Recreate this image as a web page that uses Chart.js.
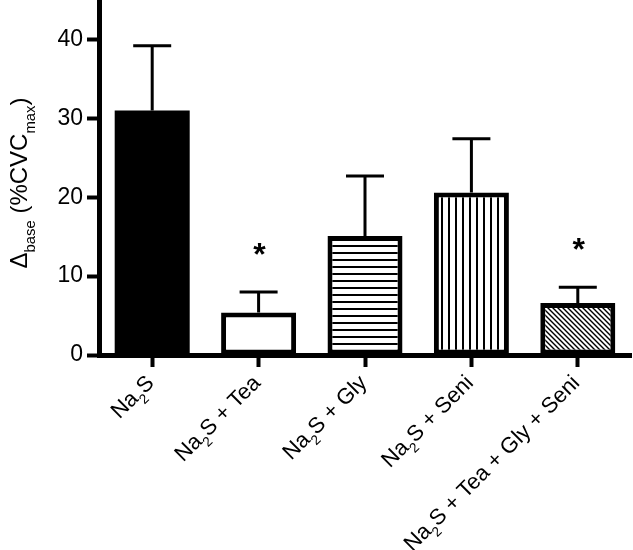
<!DOCTYPE html>
<html><head><meta charset="utf-8">
<script src="https://cdn.jsdelivr.net/npm/chart.js@4"></script>
<style>html,body{margin:0;padding:0;background:#fff}#wrap{width:633px;height:550px}</style>
</head><body><div id="wrap"><canvas id="c" width="633" height="550"></canvas></div>
<script>
const categories = ['Na_2S', 'Na_2S + Tea', 'Na_2S + Gly', 'Na_2S + Seni', 'Na_2S + Tea + Gly + Seni'];
const means = [31.0, 5.4, 15.1, 20.6, 6.6];
const sems = [8.2, 2.6, 7.6, 6.8, 2.0];
const significant = [false, true, false, false, true];
const fillKinds = ['solid', 'white', 'horizontal', 'vertical', 'diagonal'];
const yTicks = [0, 10, 20, 30, 40];
const yTitle = 'Δ_{base} (%CVC_{max})';

const FONT = 'Arial, "Liberation Sans", sans-serif';

function makeFill(kind) {
  if (kind === 'solid') return '#000';
  if (kind === 'white') return '#fff';
  const c = document.createElement('canvas');
  const g = c.getContext('2d');
  if (kind === 'horizontal') {
    c.width = 8; c.height = 7;
    g.fillStyle = '#fff'; g.fillRect(0, 0, 8, 7);
    g.fillStyle = '#000'; g.fillRect(0, 0, 8, 2);
  } else if (kind === 'vertical') {
    c.width = 7; c.height = 8;
    g.fillStyle = '#fff'; g.fillRect(0, 0, 7, 8);
    g.fillStyle = '#000'; g.fillRect(0, 0, 2, 8);
  } else {
    c.width = 5; c.height = 5;
    g.fillStyle = '#fff'; g.fillRect(0, 0, 5, 5);
    g.strokeStyle = '#000'; g.lineWidth = 1.4;
    g.beginPath();
    g.moveTo(-1, -1); g.lineTo(6, 6);
    g.moveTo(-1, 4); g.lineTo(1, 6);
    g.moveTo(4, -1); g.lineTo(6, 1);
    g.stroke();
  }
  return g.createPattern(c, 'repeat');
}

function parseRich(s) {
  const segs = []; let i = 0, buf = '';
  while (i < s.length) {
    if (s[i] === '_') {
      if (buf) { segs.push({ t: buf, sub: false }); buf = ''; }
      if (s[i + 1] === '{') { const j = s.indexOf('}', i); segs.push({ t: s.slice(i + 2, j), sub: true }); i = j + 1; }
      else { segs.push({ t: s[i + 1], sub: true }); i += 2; }
    } else { buf += s[i]; i++; }
  }
  if (buf) segs.push({ t: buf, sub: false });
  return segs;
}
function richWidth(ctx, segs, size) {
  let w = 0;
  for (const sg of segs) {
    ctx.font = (sg.sub ? size * 0.62 : size) + 'px ' + FONT;
    w += ctx.measureText(sg.t).width;
  }
  return w;
}
function drawRich(ctx, segs, size, x0) {
  let x = x0;
  ctx.textBaseline = 'alphabetic'; ctx.textAlign = 'left';
  for (const sg of segs) {
    ctx.font = (sg.sub ? size * 0.62 : size) + 'px ' + FONT;
    ctx.fillText(sg.t, x, sg.sub ? size * 0.32 : 0);
    x += ctx.measureText(sg.t).width;
  }
}

const extras = {
  id: 'extras',
  afterDatasetsDraw(chart) {
    const ctx = chart.ctx, xs = chart.scales.x, ys = chart.scales.y;
    ctx.save();
    ctx.strokeStyle = '#000'; ctx.fillStyle = '#000'; ctx.lineWidth = 3;
    means.forEach((m, i) => {
      const x = xs.getPixelForValue(i);
      const yb = ys.getPixelForValue(m);
      const yt = ys.getPixelForValue(m + sems[i]);
      ctx.beginPath();
      ctx.moveTo(x, yb); ctx.lineTo(x, yt);
      ctx.moveTo(x - 19, yt); ctx.lineTo(x + 19, yt);
      ctx.stroke();
      if (significant[i]) {
        ctx.font = 'bold 32px ' + FONT;
        ctx.textAlign = 'center'; ctx.textBaseline = 'alphabetic';
        ctx.fillText('*', x + 1, yt - 27);
      }
    });
    // x labels
    const size = 22;
    categories.forEach((lab, i) => {
      const x = xs.getPixelForValue(i);
      const segs = parseRich(lab);
      const w = richWidth(ctx, segs, size);
      ctx.save();
      ctx.translate(x + 3, 384);
      ctx.rotate(-Math.PI / 4);
      drawRich(ctx, segs, size, -w);
      ctx.restore();
    });
    // y title
    const tsize = 24;
    const tsegs = parseRich(yTitle);
    const tw = richWidth(ctx, tsegs, tsize);
    ctx.save();
    ctx.translate(27, 183);
    ctx.rotate(-Math.PI / 2);
    drawRich(ctx, tsegs, tsize, -tw / 2);
    ctx.restore();
    ctx.restore();
  }
};

new Chart(document.getElementById('c'), {
  type: 'bar',
  data: {
    labels: categories,
    datasets: [{
      data: means,
      backgroundColor: fillKinds.map(makeFill),
      borderColor: '#000',
      borderWidth: fillKinds.map(k => k === 'solid' ? 0 : 5),
      borderSkipped: false,
      categoryPercentage: 1,
      barPercentage: 0.705
    }]
  },
  options: {
    responsive: false,
    animation: false,
    layout: { padding: { top: 0, right: 2, left: 0, bottom: 0 } },
    plugins: { legend: { display: false }, tooltip: { enabled: false } },
    scales: {
      x: {
        grid: { display: true, drawOnChartArea: false, offset: false, tickLength: 12, tickWidth: 4, tickColor: '#000' },
        border: { display: true, width: 5, color: '#000' },
        ticks: { display: false },
        afterFit(s) { s.height = 195; s.paddingLeft = 0; s.paddingRight = 0; }
      },
      y: {
        min: 0, max: 45,
        afterBuildTicks(s) { s.ticks = yTicks.map(v => ({ value: v })); },
        ticks: { font: { family: FONT, size: 23 }, color: '#000', padding: 4 },
        grid: { display: true, drawOnChartArea: false, tickLength: 12, tickWidth: 4, tickColor: '#000' },
        border: { display: true, width: 5, color: '#000' },
        afterFit(s) { s.width = 99; s.paddingTop = 0; s.paddingBottom = 0; }
      }
    }
  },
  plugins: [extras]
});
</script>
</body></html>
